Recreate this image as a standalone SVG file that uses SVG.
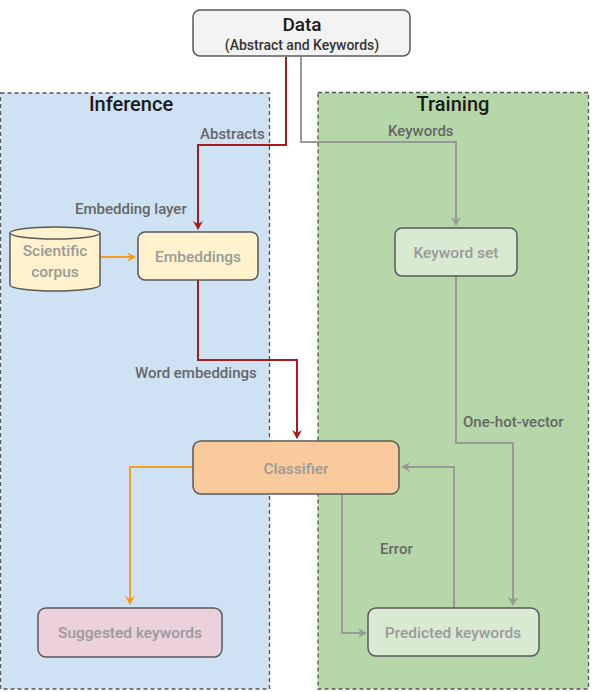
<svg xmlns="http://www.w3.org/2000/svg" width="597" height="692" viewBox="0 0 597 692">
  <defs>
    <style>
      .panel { stroke: #555; stroke-width: 1.3; stroke-dasharray: 4 3; }
      .node { stroke: #595959; stroke-width: 1.5; }
      .title { font-family: Roboto, "Liberation Sans", sans-serif; font-size: 20px; font-weight: 500; fill: #1a1a1a; text-anchor: middle; }
      .ntext { font-family: Roboto, "Liberation Sans", sans-serif; font-size: 15.5px; font-weight: 500; fill: #9a9a9a; text-anchor: middle; }
      .lbl { font-family: Roboto, "Liberation Sans", sans-serif; font-size: 15px; font-weight: 500; fill: #666; }
      .red { fill: none; stroke: #a61c1c; stroke-width: 2; }
      .gray { fill: none; stroke: #999; stroke-width: 2; }
      .orange { fill: none; stroke: #f99b1c; stroke-width: 2; }
    </style>
    <marker id="ahRed" markerWidth="10" markerHeight="10" refX="8" refY="5" orient="auto" markerUnits="userSpaceOnUse">
      <path d="M0,0 L9,5 L0,10 L3,5 Z" fill="#a61c1c"/>
    </marker>
    <marker id="ahGray" markerWidth="10" markerHeight="10" refX="8" refY="5" orient="auto" markerUnits="userSpaceOnUse">
      <path d="M0,0 L9,5 L0,10 L3,5 Z" fill="#999"/>
    </marker>
    <marker id="ahOrange" markerWidth="10" markerHeight="10" refX="8" refY="5" orient="auto" markerUnits="userSpaceOnUse">
      <path d="M0,0 L9,5 L0,10 L3,5 Z" fill="#f99b1c"/>
    </marker>
  </defs>

  <rect width="597" height="692" fill="#ffffff"/>

  <!-- swimlane panels -->
  <g id="inference">
    <rect class="panel" x="0.5" y="93" width="269" height="596" fill="#cfe2f3"/>
    <text class="title" x="131" y="111">Inference</text>
  </g>
  <g id="training">
    <rect class="panel" x="318" y="92.5" width="270.5" height="596.5" fill="#b6d7a8"/>
    <text class="title" x="453" y="111">Training</text>
  </g>

  <!-- connectors -->
  <g id="connectors">
    <path class="red" d="M286,57 V145 H198 V229" marker-end="url(#ahRed)"/>
    <path class="red" d="M198,280 V360 H297 V438" marker-end="url(#ahRed)"/>
    <path class="gray" d="M301,57 V142 H456 V225" marker-end="url(#ahGray)"/>
    <path class="gray" d="M456,276 V443 H513 V605" marker-end="url(#ahGray)"/>
    <path class="gray" d="M454,608 V467 H402" marker-end="url(#ahGray)"/>
    <path class="gray" d="M342,494 V633 H366" marker-end="url(#ahGray)"/>
    <path class="orange" d="M100,257 H135" marker-end="url(#ahOrange)"/>
    <path class="orange" d="M193,467 H130 V604" marker-end="url(#ahOrange)"/>
    <text class="lbl" x="200" y="139" font-size="14">Abstracts</text>
    <text class="lbl" x="388" y="136" font-size="14">Keywords</text>
    <text class="lbl" x="75" y="214">Embedding layer</text>
    <text class="lbl" x="135" y="378">Word embeddings</text>
    <text class="lbl" x="463" y="427">One-hot-vector</text>
    <text class="lbl" x="380" y="554">Error</text>
  </g>

  <!-- nodes -->
  <g id="data">
    <rect class="node" x="193" y="10" width="217" height="46" rx="7" fill="#f3f3f3"/>
    <text x="302" y="31" font-family="Roboto, 'Liberation Sans', sans-serif" font-size="19" font-weight="500" fill="#1a1a1a" text-anchor="middle">Data</text>
    <text x="302" y="50" font-family="Roboto, 'Liberation Sans', sans-serif" font-size="14" font-weight="500" fill="#333" text-anchor="middle">(Abstract and Keywords)</text>
  </g>
  <g id="scientific-corpus">
    <path class="node" d="M10,233 V285 A45,6 0 0 0 100,285 V233" fill="#fff2cc"/>
    <ellipse class="node" cx="55" cy="233" rx="45" ry="6" fill="#fff2cc"/>
    <text class="ntext" x="55" y="256">Scientific</text>
    <text class="ntext" x="55" y="277">corpus</text>
  </g>
  <g id="embeddings">
    <rect class="node" x="138" y="232" width="120" height="48" rx="7" fill="#fff2cc"/>
    <text class="ntext" x="198" y="262">Embeddings</text>
  </g>
  <g id="keyword-set">
    <rect class="node" x="395" y="228" width="122" height="48" rx="7" fill="#d9ead3"/>
    <text class="ntext" x="456" y="258">Keyword set</text>
  </g>
  <g id="classifier">
    <rect class="node" x="193" y="441" width="206" height="53" rx="8" fill="#f9cb9c"/>
    <text class="ntext" x="296" y="474" font-size="18" fill="#7a7a7a">Classifier</text>
  </g>
  <g id="suggested-keywords">
    <rect class="node" x="38" y="608" width="184" height="49" rx="8" fill="#ead1dc"/>
    <text class="ntext" x="130" y="638">Suggested keywords</text>
  </g>
  <g id="predicted-keywords">
    <rect class="node" x="368" y="608" width="171" height="48" rx="8" fill="#d9ead3"/>
    <text class="ntext" x="453" y="638">Predicted keywords</text>
  </g>
</svg>
